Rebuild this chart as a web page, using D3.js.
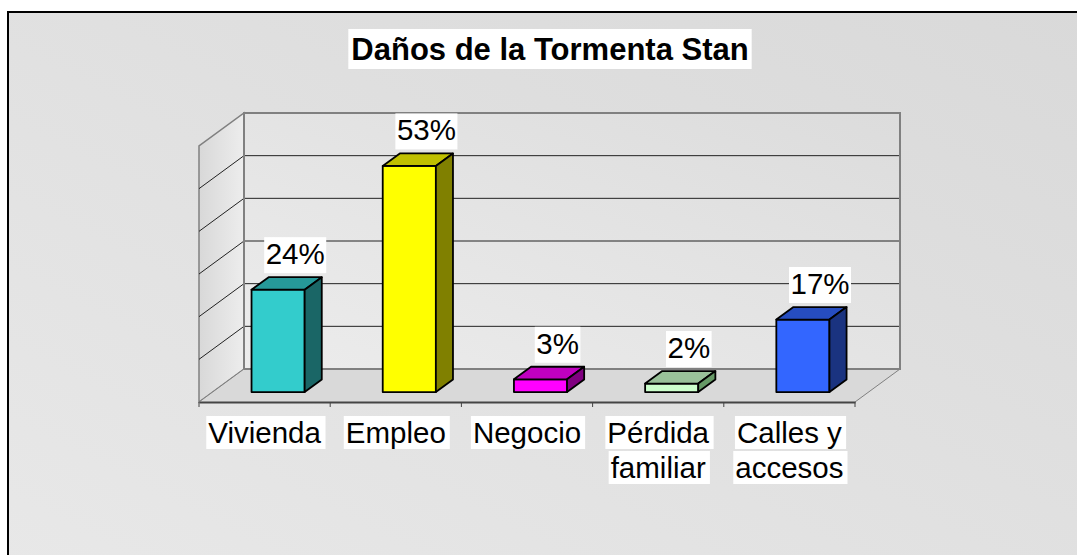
<!DOCTYPE html>
<html>
<head>
<meta charset="utf-8">
<script src="https://cdn.jsdelivr.net/npm/d3@7"></script>
<style>
  body { margin: 0; background: #fff; overflow: hidden; }
  text { font-family: Arial, "Liberation Sans", sans-serif; }
</style>
</head>
<body>
<div id="container"></div>
<script>
/* DATA */
const categories = ["Vivienda", "Empleo", "Negocio", "Pérdida\nfamiliar", "Calles y\naccesos"];
const values = [24, 53, 3, 2, 17];
const frontColors = ["#33cccc", "#ffff00", "#ff00ff", "#ccffcc", "#3366ff"];
const topColors = ["#269999", "#c0c000", "#c000c0", "#99c199", "#264dc0"];
const sideColors = ["#1a6666", "#808000", "#800080", "#669966", "#1a3380"];
const yTicks = [0, 10, 20, 30, 40, 50, 60];
const title = "Daños de la Tormenta Stan";

/* CONSTANTS */
const width = 1077, height = 555;
const DX = 45, DY = -33;          // depth of the 3d box
const d0 = 0.3, d1 = 0.68;        // bar depth range inside the box

const svg = d3.select("#container").append("svg")
  .attr("width", width).attr("height", height);

const defs = svg.append("defs");
const bg = defs.append("linearGradient").attr("id", "bg")
  .attr("x1", "1").attr("y1", "0").attr("x2", "0").attr("y2", "1");
bg.append("stop").attr("offset", "0").attr("stop-color", "#d9d9d9");
bg.append("stop").attr("offset", "1").attr("stop-color", "#e8e8e8");
const wall = defs.append("linearGradient").attr("id", "wall")
  .attr("x1", "1").attr("y1", "0").attr("x2", "0").attr("y2", "1");
wall.append("stop").attr("offset", "0").attr("stop-color", "#dcdcdc");
wall.append("stop").attr("offset", "1").attr("stop-color", "#ececec");
const side = defs.append("linearGradient").attr("id", "side")
  .attr("x1", "0").attr("y1", "0").attr("x2", "1").attr("y2", "0");
side.append("stop").attr("offset", "0").attr("stop-color", "#d8d8d8");
side.append("stop").attr("offset", "1").attr("stop-color", "#ededed");

// chart area
svg.append("rect")
  .attr("x", 8).attr("y", 12).attr("width", 1090).attr("height", 560)
  .attr("fill", "url(#bg)").attr("stroke", "#000").attr("stroke-width", 2);

/* SCALES */
const xScale = d3.scaleBand()
  .domain(categories)
  .range([199, 855]);

const yScale = d3.scaleLinear()
  .domain([0, d3.max(yTicks)])
  .range([402, 146]);

const P = (x, v, d) => [x + d * DX, yScale(v) + d * DY];
const poly = pts => pts.map(p => p.join(",")).join(" ");

const x0 = xScale.range()[0], x1 = xScale.range()[1];
const vMax = d3.max(yTicks);

// back wall
svg.append("polygon")
  .attr("points", poly([P(x0, 0, 1), P(x1, 0, 1), P(x1, vMax, 1), P(x0, vMax, 1)]))
  .attr("fill", "url(#wall)");
// left wall
svg.append("polygon")
  .attr("points", poly([P(x0, 0, 0), P(x0, 0, 1), P(x0, vMax, 1), P(x0, vMax, 0)]))
  .attr("fill", "url(#side)").attr("stroke", "#808080").attr("stroke-width", 1.5);
// floor
svg.append("polygon")
  .attr("points", poly([P(x0, 0, 0), P(x1, 0, 0), P(x1, 0, 1), P(x0, 0, 1)]))
  .attr("fill", "#d9d9d9");

// gridlines on back wall and left wall
const grid = yTicks.filter(t => t > 0 && t < vMax);
svg.selectAll(".gridBack").data(grid).join("line")
  .attr("x1", d => P(x0, d, 1)[0]).attr("y1", d => P(x0, d, 1)[1])
  .attr("x2", d => P(x1, d, 1)[0]).attr("y2", d => P(x1, d, 1)[1])
  .attr("stroke", "#222").attr("stroke-width", 1);
svg.selectAll(".gridSide").data(yTicks.filter(t => t < vMax)).join("line")
  .attr("x1", d => P(x0, d, 0)[0]).attr("y1", d => P(x0, d, 0)[1])
  .attr("x2", d => P(x0, d, 1)[0]).attr("y2", d => P(x0, d, 1)[1])
  .attr("stroke", d => d === 0 ? "#808080" : "#222").attr("stroke-width", 1);

// wall edges
svg.append("polyline")
  .attr("points", poly([P(x0, 0, 1), P(x0, vMax, 1), P(x1, vMax, 1), P(x1, 0, 1), P(x0, 0, 1)]))
  .attr("fill", "none").attr("stroke", "#808080").attr("stroke-width", 2);
svg.append("line")
  .attr("x1", P(x1, 0, 1)[0]).attr("y1", P(x1, 0, 1)[1])
  .attr("x2", P(x1, 0, 0)[0]).attr("y2", P(x1, 0, 0)[1])
  .attr("stroke", "#808080").attr("stroke-width", 1);

// category axis along the front edge
const xAxis = d3.axisBottom(xScale).tickSize(0).tickFormat("");
svg.append("g")
  .attr("class", "axis")
  .attr("transform", `translate(0,${yScale(0)})`)
  .call(xAxis)
  .call(g => g.select(".domain").attr("stroke", "#444").attr("stroke-width", 2));
svg.selectAll(".tick5").data(categories.concat(["end"])).join("line")
  .attr("x1", (d, i) => i < categories.length ? xScale(d) : x1)
  .attr("x2", (d, i) => i < categories.length ? xScale(d) : x1)
  .attr("y1", yScale(0)).attr("y2", yScale(0) + 5)
  .attr("stroke", "#444").attr("stroke-width", 1);

/* BARS */
const bw = xScale.bandwidth() * 0.405;
const bars = categories.map((c, i) => {
  const l = xScale(c) + (xScale.bandwidth() - bw) / 2;
  return { c, v: values[i], l, r: l + bw, i };
});
const gBars = svg.selectAll(".bar").data(bars).join("g").attr("class", "bar");
gBars.append("polygon")
  .attr("points", d => poly([P(d.l, 0, d0), P(d.r, 0, d0), P(d.r, d.v, d0), P(d.l, d.v, d0)]))
  .attr("fill", d => frontColors[d.i]);
gBars.append("polygon")
  .attr("points", d => poly([P(d.l, d.v, d0), P(d.r, d.v, d0), P(d.r, d.v, d1), P(d.l, d.v, d1)]))
  .attr("fill", d => topColors[d.i]);
gBars.append("polygon")
  .attr("points", d => poly([P(d.r, 0, d0), P(d.r, 0, d1), P(d.r, d.v, d1), P(d.r, d.v, d0)]))
  .attr("fill", d => sideColors[d.i]);
gBars.selectAll("polygon")
  .attr("stroke", "#000").attr("stroke-width", 1.8).attr("stroke-linejoin", "round");

/* VALUE LABELS */
const gLab = svg.selectAll(".vlab").data(bars).join("g").attr("class", "vlab");
gLab.each(function (d) {
  const g = d3.select(this);
  const cx = (d.l + d.r) / 2 + d1 * DX;
  const base = yScale(d.v) + d1 * DY - 13;
  const t = g.append("text").attr("x", cx).attr("y", base)
    .attr("text-anchor", "middle").attr("font-size", 29.5).attr("fill", "#000")
    .text(d.v + "%");
  const bb = t.node().getBBox();
  g.insert("rect", "text")
    .attr("x", bb.x - 1.5).attr("y", base - 27).attr("width", bb.width + 3).attr("height", 36)
    .attr("fill", "#fff");
});

/* CATEGORY LABELS */
categories.forEach(c => {
  const lines = c.split("\n");
  const cx = xScale(c) + xScale.bandwidth() / 2;
  lines.forEach((ln, j) => {
    const g = svg.append("g");
    const base = 443 + j * 35;
    const t = g.append("text").attr("x", cx).attr("y", base)
      .attr("text-anchor", "middle").attr("font-size", 29.5).attr("fill", "#000")
      .text(ln);
    const bb = t.node().getBBox();
    g.insert("rect", "text")
      .attr("x", bb.x - 2).attr("y", base - 27).attr("width", bb.width + 6).attr("height", 33)
      .attr("fill", "#fff");
  });
});

/* TITLE */
const gT = svg.append("g");
const tt = gT.append("text").attr("x", 550).attr("y", 60)
  .attr("text-anchor", "middle").attr("font-size", 31).attr("font-weight", "bold")
  .text(title);
const tb = tt.node().getBBox();
gT.insert("rect", "text")
  .attr("x", tb.x - 3).attr("y", 29).attr("width", tb.width + 6).attr("height", 40)
  .attr("fill", "#fff");
</script>
</body>
</html>
